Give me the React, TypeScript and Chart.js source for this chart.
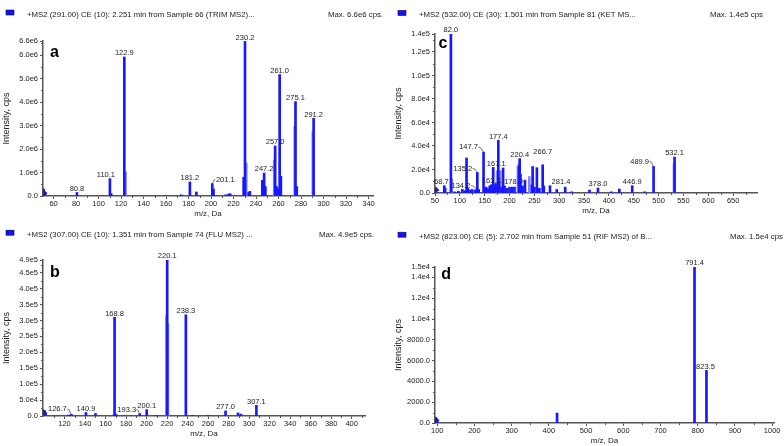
import React, { useEffect, useRef } from 'react';
import { Chart, registerables } from 'chart.js';
Chart.register(...registerables);

const FONT = '"Liberation Sans", Arial, Helvetica, sans-serif';
const W = 392;
const H = 223;

// ---------- Panel a (TRIM) ----------
const aHeader = '+MS2 (291.00) CE (10): 2.251 min from Sample 66 (TRIM MS2)...';
const aMax = 'Max. 6.6e6 cps.';
const aMz = [51.0, 52.5, 80.8, 110.1, 111.2, 122.9, 173.5, 181.2, 187.0, 201.1, 202.2, 213.0, 215.5, 217.0, 229.0, 230.2, 233.5, 234.5, 245.6, 247.2, 248.3, 257.0, 258.3, 259.6, 261.0, 262.1, 275.1, 276.2, 291.2];
const aIntensity = [0.3e6, 0.15e6, 0.15e6, 0.74e6, 0.1e6, 5.92e6, 0.05e6, 0.6e6, 0.17e6, 0.53e6, 0.3e6, 0.05e6, 0.08e6, 0.1e6, 0.8e6, 6.58e6, 0.15e6, 0.2e6, 0.67e6, 0.98e6, 0.4e6, 2.13e6, 0.4e6, 0.3e6, 5.17e6, 0.84e6, 4.02e6, 0.4e6, 3.31e6];
const aShoulderMz = [124.0, 231.3, 256.2, 274.4, 290.5];
const aShoulderIntensity = [1.03e6, 1.4e6, 1.53e6, 2.95e6, 2.74e6];
const aLabeled = [80.8, 110.1, 122.9, 181.2, 201.1, 230.2, 247.2, 257.0, 261.0, 275.1, 291.2];
const aXTicks = [60, 80, 100, 120, 140, 160, 180, 200, 220, 240, 260, 280, 300, 320, 340];
const aYTicks = [0, 1e6, 2e6, 3e6, 4e6, 5e6, 6e6, 6.6e6];

// ---------- Panel b (FLU) ----------
const bHeader = '+MS2 (307.00) CE (10): 1.351 min from Sample 74 (FLU MS2) ...';
const bMax = 'Max. 4.9e5 cps.';
const bMz = [100.3, 101.5, 124.0, 126.7, 140.9, 150.2, 167.8, 168.8, 170.2, 193.3, 200.1, 210.0, 220.1, 238.3, 245.0, 260.0, 277.0, 289.2, 292.0, 307.1];
const bIntensity = [1.8e4, 0.9e4, 0.3e4, 0.5e4, 1.1e4, 0.8e4, 0.3e4, 3.1e5, 0.5e4, 0.75e4, 2.0e4, 0.2e4, 4.9e5, 3.18e5, 0.2e4, 0.2e4, 1.6e4, 0.95e4, 0.6e4, 3.35e4];
const bShoulderMz = [219.4, 220.8];
const bShoulderIntensity = [3.15e5, 2.9e5];
const bLabeled = [126.7, 140.9, 168.8, 193.3, 200.1, 220.1, 238.3, 277.0, 307.1];
const bXTicks = [120, 140, 160, 180, 200, 220, 240, 260, 280, 300, 320, 340, 360, 380, 400];
const bYTicks = [0, 5e4, 1e5, 1.5e5, 2e5, 2.5e5, 3e5, 3.5e5, 4e5, 4.5e5, 4.9e5];

// ---------- Panel c (KET) ----------
const cHeader = '+MS2 (532.00) CE (30): 1.501 min from Sample 81 (KET MS...';
const cMax = 'Max. 1.4e5 cps';
const cMz = [50.5, 52.0, 68.7, 70.5, 82.0, 89.0, 97.0, 105.0, 110.0, 113.5, 116.0, 120.0, 125.0, 131.0, 134.2, 135.2, 138.0, 147.7, 150.5, 153.0, 157.0, 160.0, 163.2, 165.0, 167.1, 170.0, 172.0, 177.4, 178.9, 184.0, 187.0, 190.0, 195.0, 200.0, 205.0, 210.0, 219.0, 220.4, 222.0, 226.0, 231.0, 245.0, 246.5, 250.0, 255.0, 260.0, 266.7, 269.0, 281.4, 295.0, 312.0, 325.0, 361.0, 378.0, 405.0, 421.0, 446.9, 472.0, 489.9, 532.1];
const cIntensity = [4200, 2500, 6200, 4000, 135300, 1000, 1500, 3000, 2000, 29800, 4000, 2500, 3000, 2500, 3000, 17500, 3000, 34900, 4000, 5000, 3500, 6000, 7000, 5500, 21800, 6000, 8000, 44800, 9000, 5000, 21300, 6000, 4000, 5000, 5000, 5000, 24000, 29200, 16000, 6000, 11000, 7000, 22500, 5000, 21500, 4000, 24000, 6000, 6200, 3000, 5000, 1000, 2500, 4200, 1000, 3400, 6200, 1000, 22600, 30600];
const cShoulderMz = [83.5, 175.0, 181.0, 217.0, 239.8, 531.0];
const cShoulderIntensity = [12000, 19000, 19000, 22600, 14000, 25000];
const cLabeled = [68.7, 82.0, 134.2, 135.2, 147.7, 163.2, 167.1, 177.4, 178.9, 220.4, 266.7, 281.4, 378.0, 446.9, 489.9, 532.1];
const cXTicks = [50, 100, 150, 200, 250, 300, 350, 400, 450, 500, 550, 600, 650];
const cYTicks = [0, 2e4, 4e4, 6e4, 8e4, 1e5, 1.2e5, 1.353e5];

// ---------- Panel d (RIF) ----------
const dHeader = '+MS2 (823.00) CE (5): 2.702 min from Sample 51 (RIF MS2) of B...';
const dMax = 'Max. 1.5e4 cps';
const dMz = [95.5, 97.5, 100.0, 422.0, 791.4, 823.5];
const dIntensity = [480, 300, 200, 960, 15000, 5060];
const dShoulderMz: number[] = [];
const dShoulderIntensity: number[] = [];
const dLabeled = [791.4, 823.5];
const dXTicks = [100, 200, 300, 400, 500, 600, 700, 800, 900, 1000];
const dYTicks = [0, 2000, 4000, 6000, 8000, 1e4, 1.2e4, 1.4e4, 1.5e4];

type LabelStyle = { dx?: number; dy?: number; leader?: 'left' | 'right' };

interface PanelSpec {
  x: number; y: number;
  header: string; headerY: number; maxText: string; maxX: number;
  letter: string; letterX: number; letterY: number;
  mz: number[]; intensity: number[]; shoulderMz: number[]; shoulderIntensity: number[];
  labeled: number[]; labelStyle: Record<string, LabelStyle>;
  xMin: number; xMax: number; yMax: number; xTicks: number[]; yTicks: number[];
  area: { left: number; right: number; top: number; bottom: number };
}

const panels: PanelSpec[] = [
  {
    x: 0, y: 0, header: aHeader, headerY: 14.5, maxText: aMax, maxX: 328,
    letter: 'a', letterX: 50, letterY: 56.5,
    mz: aMz, intensity: aIntensity, shoulderMz: aShoulderMz, shoulderIntensity: aShoulderIntensity,
    labeled: aLabeled,
    labelStyle: { '110.1': { dx: -4 }, '201.1': { dx: 13, leader: 'left' } },
    xMin: 50.6, xMax: 344, yMax: 6.6e6, xTicks: aXTicks, yTicks: aYTicks,
    area: { left: 43, right: 373, top: 41, bottom: 196 },
  },
  {
    x: 392, y: 0, header: cHeader, headerY: 15, maxText: cMax, maxX: 318,
    letter: 'c', letterX: 46.5, letterY: 47.5,
    mz: cMz, intensity: cIntensity, shoulderMz: cShoulderMz, shoulderIntensity: cShoulderIntensity,
    labeled: cLabeled,
    labelStyle: {
      '68.7': { dx: -3 },
      '134.2': { dx: -16, leader: 'right' },
      '135.2': { dx: -14.5, leader: 'right' },
      '147.7': { dx: -15, dy: -1, leader: 'right' },
      '167.1': { dx: 3 },
      '178.9': { dx: 14.5, dy: 3.5, leader: 'left' },
      '266.7': { dy: -9 },
      '281.4': { dx: 11 },
      '489.9': { dx: -14, dy: -1, leader: 'right' },
    },
    xMin: 50, xMax: 698, yMax: 1.353e5, xTicks: cXTicks, yTicks: cYTicks,
    area: { left: 43, right: 365, top: 34, bottom: 193 },
  },
  {
    x: 0, y: 223, header: bHeader, headerY: 11.7, maxText: bMax, maxX: 319,
    letter: 'b', letterX: 50, letterY: 54.3,
    mz: bMz, intensity: bIntensity, shoulderMz: bShoulderMz, shoulderIntensity: bShoulderIntensity,
    labeled: bLabeled,
    labelStyle: {
      '126.7': { dx: -14, dy: -1.5, leader: 'right' },
      '193.3': { dx: -13, leader: 'right' },
    },
    xMin: 99, xMax: 413, yMax: 4.9e5, xTicks: bXTicks, yTicks: bYTicks,
    area: { left: 43, right: 365, top: 37, bottom: 193 },
  },
  {
    x: 392, y: 223, header: dHeader, headerY: 13.7, maxText: dMax, maxX: 338,
    letter: 'd', letterX: 49.3, letterY: 56.3,
    mz: dMz, intensity: dIntensity, shoulderMz: dShoulderMz, shoulderIntensity: dShoulderIntensity,
    labeled: dLabeled,
    labelStyle: { '823.5': { dx: -1 } },
    xMin: 94, xMax: 1005, yMax: 1.5e4, xTicks: dXTicks, yTicks: dYTicks,
    area: { left: 43, right: 382, top: 44, bottom: 200 },
  },
];

const AXIS = '#555';
const TEXT = '#222';

const fmtY = (v: number) =>
  v === 0 ? '0.0' : v < 1e4 ? v.toFixed(1) : v.toExponential(1).replace('+', '');

function decor(p: PanelSpec) {
  return {
    id: 'decor',
    afterDraw(chart: any) {
      const ctx: CanvasRenderingContext2D = chart.ctx;
      const { left, right, top, bottom } = chart.chartArea;
      const xs = chart.scales.x;
      const ys = chart.scales.y;
      ctx.save();

      // header
      ctx.fillStyle = '#1414e6';
      ctx.fillRect(6, p.headerY - 4.5, 8, 5);
      ctx.strokeStyle = '#000070';
      ctx.lineWidth = 0.6;
      ctx.strokeRect(6, p.headerY - 4.5, 8, 5);
      ctx.font = `7.8px ${FONT}`;
      ctx.fillStyle = TEXT;
      ctx.textAlign = 'left';
      ctx.textBaseline = 'middle';
      ctx.fillText(p.header, 27, p.headerY);
      ctx.fillText(p.maxText, p.maxX, p.headerY);

      // panel letter
      ctx.font = `bold 16px ${FONT}`;
      ctx.fillStyle = '#000';
      ctx.textBaseline = 'alphabetic';
      ctx.fillText(p.letter, p.letterX, p.letterY);

      // axis titles
      ctx.fillStyle = TEXT;
      ctx.font = `8px ${FONT}`;
      ctx.textAlign = 'center';
      ctx.textBaseline = 'middle';
      ctx.fillText('m/z, Da', (left + right) / 2, bottom + 17.5);
      ctx.save();
      ctx.translate(7, (top + bottom) / 2);
      ctx.rotate(-Math.PI / 2);
      ctx.font = `9px ${FONT}`;
      ctx.fillText('Intensity, cps', 0, 0);
      ctx.restore();

      // minor ticks
      ctx.strokeStyle = AXIS;
      ctx.lineWidth = 1;
      const xStep = p.xTicks[1] - p.xTicks[0];
      for (let v = p.xTicks[0] - xStep / 2; v <= p.xMax; v += xStep) {
        if (v < p.xMin) continue;
        const px = Math.round(xs.getPixelForValue(v)) + 0.5;
        ctx.beginPath();
        ctx.moveTo(px, bottom);
        ctx.lineTo(px, bottom + 2);
        ctx.stroke();
      }
      const yStep = p.yTicks[1] - p.yTicks[0];
      for (let v = yStep / 2; v < p.yMax; v += yStep) {
        const py = Math.round(ys.getPixelForValue(v)) + 0.5;
        ctx.beginPath();
        ctx.moveTo(left, py);
        ctx.lineTo(left - 2, py);
        ctx.stroke();
      }

      // origin marker
      ctx.fillStyle = '#1a1ab0';
      ctx.beginPath();
      ctx.moveTo(left + 0.5, bottom - 7);
      ctx.lineTo(left + 4.5, bottom - 2.5);
      ctx.lineTo(left + 0.5, bottom - 1);
      ctx.closePath();
      ctx.fill();

      // peak labels
      ctx.font = `7.5px ${FONT}`;
      ctx.fillStyle = TEXT;
      ctx.textAlign = 'center';
      ctx.textBaseline = 'bottom';
      ctx.strokeStyle = '#333';
      ctx.lineWidth = 0.7;
      for (const v of p.labeled) {
        const i = p.mz.indexOf(v);
        if (i < 0) continue;
        const px = xs.getPixelForValue(v);
        const py = ys.getPixelForValue(p.intensity[i]);
        const txt = v.toFixed(1);
        const st = p.labelStyle[txt] || {};
        const tx = px + (st.dx || 0);
        const ty = py + (st.dy || 0);
        ctx.fillText(txt, tx, ty);
        if (st.leader) {
          const w = ctx.measureText(txt).width;
          ctx.beginPath();
          if (st.leader === 'right') {
            ctx.moveTo(tx + w / 2 + 0.5, ty - 4);
            ctx.quadraticCurveTo(tx + w / 2 + 2.5, ty - 4.5, px - 0.5, py - 0.5);
          } else {
            ctx.moveTo(px + 0.5, py - 0.5);
            ctx.quadraticCurveTo(tx - w / 2 - 2.5, ty - 4.5, tx - w / 2 - 0.5, ty - 4);
          }
          ctx.stroke();
        }
      }
      ctx.restore();
    },
  };
}

function buildChart(canvas: HTMLCanvasElement, p: PanelSpec) {
  const main = p.mz.map((m, i) => ({ x: m, y: p.intensity[i] }));
  const sh = p.shoulderMz.map((m, i) => ({ x: m, y: p.shoulderIntensity[i] }));
  const tickFont = { family: FONT, size: 7.5 };
  return new Chart(canvas, {
    type: 'bar',
    data: {
      datasets: [
        { data: main, backgroundColor: 'rgb(24,24,255)', barThickness: 2, grouped: false, borderWidth: 0 } as any,
        { data: sh, backgroundColor: 'rgb(132,132,255)', barThickness: 2, grouped: false, borderWidth: 0 } as any,
      ],
    },
    options: {
      animation: false,
      responsive: false,
      events: [],
      layout: { padding: { left: 0, top: p.area.top, right: W - p.area.right, bottom: 0 } },
      plugins: { legend: { display: false }, tooltip: { enabled: false } },
      scales: {
        x: {
          type: 'linear',
          min: p.xMin,
          max: p.xMax,
          offset: false,
          grid: { drawOnChartArea: false, offset: false, tickLength: 3, color: AXIS, lineWidth: 1 },
          border: { display: true, color: AXIS, width: 1.5 },
          ticks: {
            font: tickFont, color: TEXT, padding: 0, autoSkip: false, maxRotation: 0, minRotation: 0,
            callback: (v: any) => String(v),
          },
          afterBuildTicks: (s: any) => { s.ticks = p.xTicks.map((v) => ({ value: v })); },
          afterFit: (s: any) => { s.height = H - p.area.bottom; },
        },
        y: {
          type: 'linear',
          min: 0,
          max: p.yMax,
          grid: { drawOnChartArea: false, tickLength: 3, color: AXIS, lineWidth: 1 },
          border: { display: true, color: AXIS, width: 1.5 },
          ticks: {
            font: tickFont, color: TEXT, padding: 2, autoSkip: false,
            callback: (v: any) => fmtY(Number(v)),
          },
          afterBuildTicks: (s: any) => { s.ticks = p.yTicks.map((v) => ({ value: v })); },
          afterFit: (s: any) => { s.width = p.area.left; },
        },
      } as any,
    } as any,
    plugins: [decor(p)],
  });
}

function Panel({ p }: { p: PanelSpec }) {
  const ref = useRef<HTMLCanvasElement>(null);
  useEffect(() => {
    const c = buildChart(ref.current!, p);
    return () => c.destroy();
  }, [p]);
  return (
    <canvas
      ref={ref}
      width={W}
      height={H}
      style={{ position: 'absolute', left: p.x, top: p.y, width: W, height: H, display: 'block' }}
    />
  );
}

export default function App() {
  return (
    <div style={{ position: 'fixed', left: 0, top: 0, width: 784, height: 446, background: '#fff', overflow: 'hidden' }}>
      {panels.map((p, i) => (
        <Panel key={i} p={p} />
      ))}
    </div>
  );
}
